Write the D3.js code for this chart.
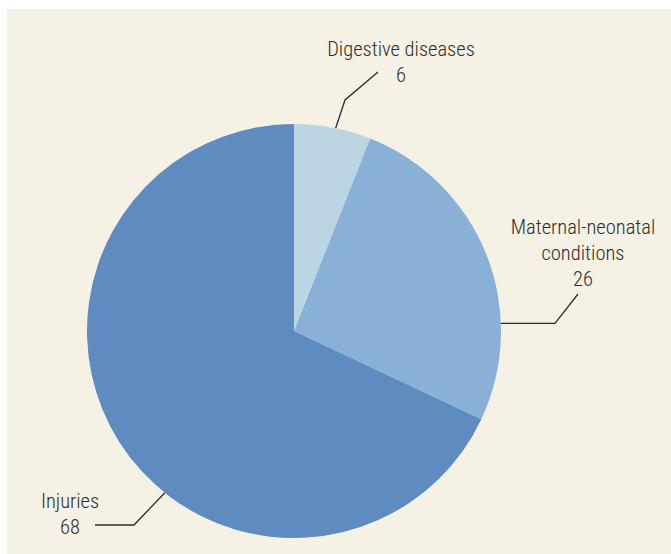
<!DOCTYPE html>
<html><head><meta charset="utf-8">
<script src="https://cdn.jsdelivr.net/npm/d3@7"></script>
<style>
html,body{margin:0;padding:0;background:#fff;}
text{font-family:"Liberation Sans Narrow","Roboto Condensed","DejaVu Sans Condensed","Arial Narrow",sans-serif;font-stretch:condensed;font-weight:300;}
</style></head>
<body><svg id="c" width="671" height="554"></svg>
<script>
const categories = ["Digestive diseases", "Maternal-neonatal conditions", "Injuries"];
const labelLines = [["Digestive diseases"], ["Maternal-neonatal", "conditions"], ["Injuries"]];
const values = [6, 26, 68];
const colors = ["#bbd6e2", "#89b1d8", "#5e8bc0"];

const svg = d3.select("#c");
svg.append("rect").attr("x", 7).attr("y", 9).attr("width", 664).attr("height", 545).attr("fill", "#f5f1e4");

const cx = 294, cy = 331, r = 207;
const g = svg.append("g").attr("transform", `translate(${cx},${cy})`);
const pie = d3.pie().sort(null).value(d => d)(values);
const arc = d3.arc().innerRadius(0).outerRadius(r);
g.selectAll("path").data(pie).join("path")
  .attr("d", arc).attr("fill", (d, i) => colors[i]);

// leader-line layout: anchor angle on rim (deg), elbow & end offsets relative to centre
const leaders = [
  {a: 11.6, elbow: [51, -231], end: [84, -259], tx: 107, ty: -275, anchor: "middle"},
  {a: 87.9, elbow: [261, -7.7], end: [284, -37], tx: 289, ty: -97, anchor: "middle"},
  {a: 218.6, elbow: [-160, 194], end: [-199, 194], tx: -224, ty: 177, anchor: "middle"}
];
const line = d3.line();
leaders.forEach((L, i) => {
  const rad = L.a * Math.PI / 180;
  const p0 = [r * Math.sin(rad), -r * Math.cos(rad)];
  g.append("path").attr("d", line([p0, L.elbow, L.end]))
    .attr("fill", "none").attr("stroke", "#2b2b2b").attr("stroke-width", 1.3);
  const t = g.append("text").attr("text-anchor", L.anchor).attr("fill", "#2e2e2e")
    .attr("font-size", 20.5).attr("x", L.tx).attr("y", L.ty);
  const lines = labelLines[i].concat([String(values[i])]);
  lines.forEach((s, k) => t.append("tspan").attr("x", L.tx).attr("dy", k === 0 ? 0 : 26).text(s));
});
</script></body></html>
